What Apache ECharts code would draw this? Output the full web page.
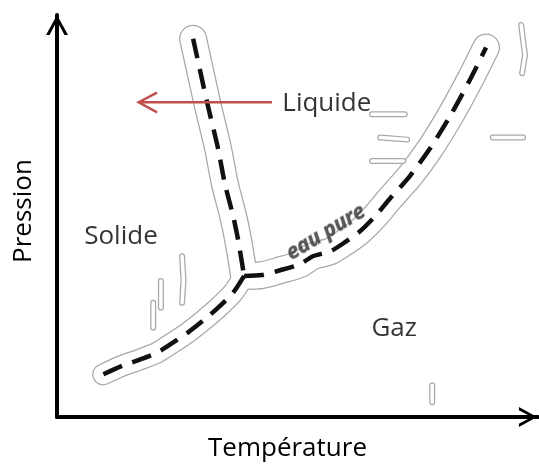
<!DOCTYPE html>
<html>
<head>
<meta charset="utf-8">
<script src="https://cdn.jsdelivr.net/npm/echarts@6/dist/echarts.min.js"></script>
<style>
  html, body { margin: 0; padding: 0; background: #fff; }
  #chart { width: 539px; height: 467px; }
</style>
</head>
<body>
<div id="chart"></div>
<script>
// diagramme de phase de l'eau, T et P en unités arbitraires (0-100)
const fusion = [[28.3, 94.1], [31.2, 78.3], [33.5, 66.7], [34.9, 58.0], [36.6, 50.1], [37.6, 44.4], [38.3, 39.5], [38.9, 35.1]];
const vaporisation = [[38.9, 35.1], [42.6, 35.3], [46.4, 36.5], [50.5, 38.0], [53.2, 40.0], [56.8, 41.2], [59.9, 43.5], [63.0, 46.2],
  [66.1, 49.9], [69.2, 54.3], [73.4, 60.0], [77.5, 66.7], [81.7, 74.8], [85.9, 84.0], [89.2, 91.9]];
const sublimation = [[38.9, 35.1], [36.6, 30.9], [33.5, 27.2], [30.4, 24.0], [27.2, 21.0], [24.1, 18.5], [20.8, 16.0], [16.8, 14.1], [13.7, 12.8], [9.6, 10.6]];

// fleche rouge vers la gauche
const arrowShaft = [[44.7, 78.3], [17.0, 78.3]];
const arrowHead = [[20.8, 80.7], [17.0, 78.3], [20.8, 75.8]];

// étiquettes des zones
const zoneNames = ['Solide', 'Liquide', 'Gaz'];
const zonePos = [[13.3, 44.9], [56.1, 78.0], [70.1, 22.0]];
const curveName = 'eau pure';
const curveNamePos = [55.9, 45.9];

// petits contours gris (bruit de l'image)
const noise = [
  [[20.0, 28.4], [20.0, 22.2]],
  [[21.6, 33.8], [21.6, 27.2]],
  [[26.0, 40.0], [26.3, 34.0], [26.0, 28.4]],
  [[78.0, 7.9], [78.0, 3.7]],
  [[65.5, 75.3], [72.3, 75.3]],
  [[67.2, 69.5], [72.8, 69.0]],
  [[65.5, 63.7], [72.0, 63.7]],
  [[90.6, 69.5], [96.9, 69.5]],
  [[96.5, 97.5], [97.3, 90.0], [96.7, 85.5]]
];

const chart = echarts.init(document.getElementById('chart'));

const series = [];
[fusion, vaporisation, sublimation].forEach(function (d, i) {
  series.push({
    type: 'line', data: d, smooth: 0.25, showSymbol: false, silent: true, z: 1,
    lineStyle: { color: '#a8a8a8', width: i === 2 ? 22 : 28, cap: 'round', join: 'round' }
  });
  series.push({
    type: 'line', data: d, smooth: 0.25, showSymbol: false, silent: true, z: 2,
    lineStyle: { color: '#fff', width: i === 2 ? 19.5 : 25.5, cap: 'round', join: 'round' }
  });
});
noise.forEach(function (d) {
  series.push({
    type: 'line', data: d, showSymbol: false, silent: true, z: 2,
    lineStyle: { color: '#a8a8a8', width: 6, cap: 'round', join: 'round' }
  });
  series.push({
    type: 'line', data: d, showSymbol: false, silent: true, z: 2,
    lineStyle: { color: '#fff', width: 3.5, cap: 'round', join: 'round' }
  });
});
[fusion, vaporisation, sublimation].forEach(function (d) {
  series.push({
    type: 'line', data: d, smooth: 0.25, showSymbol: false, silent: true, z: 3,
    lineStyle: { color: '#111', width: 4.5, type: [20, 11], cap: 'butt' }
  });
});
series.push({
  type: 'line', data: arrowShaft, showSymbol: false, silent: true, z: 4,
  lineStyle: { color: '#c0504d', width: 2.5 }
});
series.push({
  type: 'line', data: arrowHead, showSymbol: false, silent: true, z: 4,
  lineStyle: { color: '#c0504d', width: 2.5, join: 'miter' }
});
series.push({
  type: 'scatter', symbolSize: 0, silent: true, z: 5,
  data: zoneNames.map(function (n, i) { return { name: n, value: zonePos[i] }; }).concat([{
    name: curveName, value: curveNamePos,
    label: {
      rotate: 31, fontSize: 21, fontWeight: 'bold', fontStyle: 'italic', color: '#333',
      textBorderColor: 'rgba(150,150,150,0.7)', textBorderWidth: 1.5
    }
  }]),
  label: { show: true, position: 'inside', formatter: '{b}', fontSize: 26, color: '#000', textBorderWidth: 0 }
});

const chevron = 'path://M0,20 L11,0 L22,20 L18.5,20 L11,6 L3.5,20 Z';

chart.setOption({
  animation: false,
  textStyle: { fontFamily: 'Open Sans' },
  grid: { left: 57, top: 15, right: 1, bottom: 47 },
  xAxis: {
    type: 'value', min: 0, max: 100,
    name: 'Température', nameLocation: 'middle', nameGap: 19,
    nameTextStyle: { fontSize: 26, color: '#000', padding: [0, 20, 0, 0] },
    axisLine: { show: true, lineStyle: { color: '#000', width: 4 }, symbol: ['none', chevron], symbolSize: [20, 20], symbolOffset: [0, -10] },
    axisTick: { show: false }, axisLabel: { show: false }, splitLine: { show: false }
  },
  yAxis: {
    type: 'value', min: 0, max: 100,
    name: 'Pression', nameLocation: 'middle', nameGap: 20, nameRotate: 90,
    nameTextStyle: { fontSize: 26, color: '#000', padding: [0, 0, 0, 10] },
    axisLine: { show: true, lineStyle: { color: '#000', width: 4 }, symbol: ['none', chevron], symbolSize: [22, 20], symbolOffset: [0, -10] },
    axisTick: { show: false }, axisLabel: { show: false }, splitLine: { show: false }
  },
  series: series
});
</script>
</body>
</html>
